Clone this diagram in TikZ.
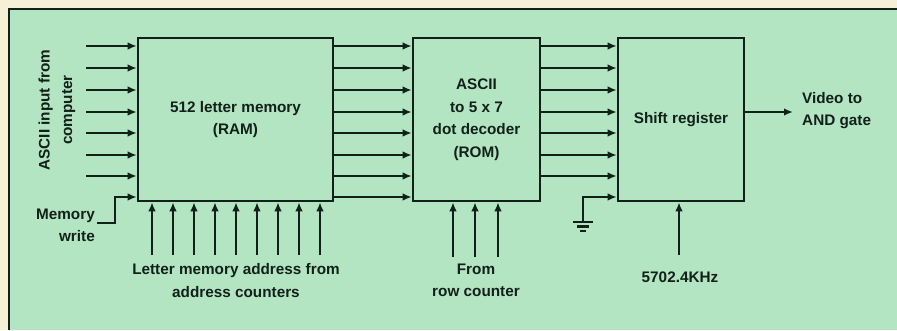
\documentclass[tikz,border=0pt]{standalone}
\usepackage{fontspec}
\setmainfont{Liberation Sans}
\usepackage{tikz}
\usepackage{xcolor}
\usetikzlibrary{arrows.meta, calc, positioning}

\definecolor{paper}{HTML}{F6F1D6}
\definecolor{panel}{HTML}{B4E5C3}
\definecolor{ink}{HTML}{12201A}

\tikzset{
    block/.style={draw=ink, line width=2.6pt, rectangle, inner sep=0pt, align=center},
    sig/.style={draw=ink, line width=2.8pt, -{Latex[length=9pt,width=7.5pt]}},
    wire/.style={draw=ink, line width=2.6pt},
    lbl/.style={text=ink, align=center, inner sep=0pt}
}

\begin{document}
\begin{tikzpicture}[x=1pt, y=-1pt, font=\fontsize{15.3}{22.5}\selectfont\bfseries]
                        \useasboundingbox (0,0) rectangle (897,330);
                        \fill[paper] (0,0) rectangle (897,330);
                        \fill[panel] (9,9) rectangle (897,330);
                        \draw[ink, line width=2.6pt] (9,330) -- (9,9) -- (897,9);
                        % blocks
                        \node[block, minimum width=195pt, minimum height=163pt, text=ink] (ram) at (235.5,119.5) {512 letter memory\\(RAM)};
                        \node[block, minimum width=127pt, minimum height=163pt, text=ink] (rom) at (476.5,119.5) {ASCII\\to 5 x 7\\dot decoder\\(ROM)};
                        \node[block, minimum width=126pt, minimum height=163pt, text=ink] (sr) at (681,119.5) {Shift register};
                        % labels
                        \node[lbl, rotate=90] (ascii) at (57,110) {ASCII input from\\computer};
                        \node[lbl, align=right, anchor=east] (mem) at (95,225.5) {Memory\\write};
                        \node[lbl] (addr) at (236,280.5) {Letter memory address from\\address counters};
                        \node[lbl] (row) at (476,280.5) {From\\row counter};
                        \node[lbl] (clk) at (680,277) {5702.4KHz};
                        \node[lbl, align=left, anchor=west] (video) at (802,110.5) {Video to\\AND gate};
                        % data lines
                        \foreach \i/\y in {1/46,2/68,3/90,4/112,5/133,6/155,7/176} {
                            \coordinate (in\i) at (86,\y);
                            \draw[sig] (in\i) -- (in\i -| ram.west);
                            \draw[sig] (in\i -| ram.east) -- (in\i -| rom.west);
                            \draw[sig] (in\i -| rom.east) -- (in\i -| sr.west);
                        }
                        \coordinate (in8) at (115,197);
                        \draw[sig] (in8 -| ram.east) -- (in8 -| rom.west);
                        % memory write
                        \coordinate (mw) at (97,223);
                        \draw[sig] (mw) -- (mw -| in8) -- (in8) -- (in8 -| ram.west);
                        % address lines
                        \foreach \x in {152,173,194,215,236,257,278,299,320} {
                            \coordinate (a\x) at (\x,255);
                            \draw[sig] (a\x) -- (a\x |- ram.south);
                        }
                        \foreach \x in {453,475,498} {
                            \coordinate (r\x) at (\x,257);
                            \draw[sig] (r\x) -- (r\x |- rom.south);
                        }
                        \coordinate (c1) at (679,255);
                        \draw[sig] (c1) -- (c1 |- sr.south);
                        % ground
                        \coordinate (gnd) at (583,222);
                        \draw[sig] (gnd) |- (in8 -| sr.west);
                        \draw[wire] ($(gnd)+(-10,0)$) -- ($(gnd)+(10,0)$);
                        \draw[wire] ($(gnd)+(-6,4.5)$) -- ($(gnd)+(6,4.5)$);
                        \draw[wire] ($(gnd)+(-3,9)$) -- ($(gnd)+(3,9)$);
                        % output
                        \coordinate (out) at (793,112);
                        \draw[sig] (out -| sr.east) -- (out);
                    \end{tikzpicture}
\end{document}
